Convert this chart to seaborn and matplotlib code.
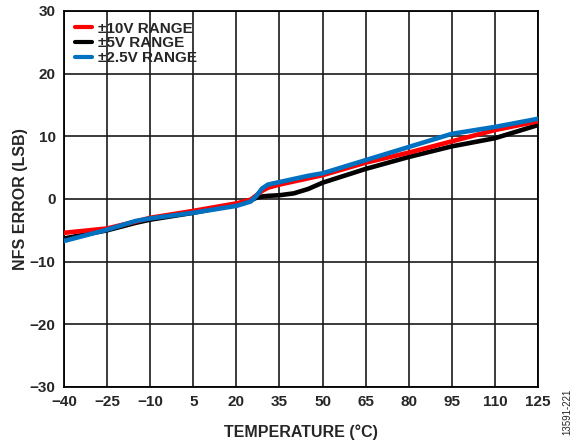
import matplotlib
matplotlib.use("Agg")
import matplotlib.pyplot as plt
import seaborn as sns
import pandas as pd

temps = [-40, -25, -15, -10, 5, 20, 25, 27, 29, 31, 35, 40, 45, 50, 65, 80, 95, 110, 125]
err_10v = [-5.4, -4.7, -3.6, -3.0, -1.9, -0.7, -0.1, 0.6, 1.3, 1.8, 2.3, 2.8, 3.3, 3.8, 5.8, 7.4, 9.2, 11.0, 12.4]
err_5v = [-6.3, -5.0, -3.8, -3.3, -2.2, -0.9, -0.2, 0.2, 0.4, 0.5, 0.6, 0.9, 1.6, 2.6, 4.8, 6.7, 8.4, 9.7, 11.8]
err_2v5 = [-6.7, -4.9, -3.5, -3.1, -2.2, -1.1, -0.4, 0.5, 1.7, 2.3, 2.7, 3.2, 3.7, 4.1, 6.2, 8.3, 10.4, 11.5, 12.8]

series = [("±10V RANGE", err_10v, "#FF0000", 3),
          ("±5V RANGE", err_5v, "#000000", 2),
          ("±2.5V RANGE", err_2v5, "#0070C0", 4)]

xticks = [-40, -25, -10, 5, 20, 35, 50, 65, 80, 95, 110, 125]
yticks = [-30, -20, -10, 0, 10, 20, 30]

sns.set_style("white")
plt.rcParams['font.family'] = ['Liberation Sans', 'DejaVu Sans']
plt.rcParams['font.weight'] = 'bold'

fig = plt.figure(figsize=(5.76, 4.42), dpi=100)
ax = fig.add_axes([64/576, 55/442, 474/576, 376/442])

for name, vals, col, z in series:
    df = pd.DataFrame({"t": temps, "e": vals})
    sns.lineplot(data=df, x="t", y="e", ax=ax, color=col, linewidth=3.3,
                 label=name, zorder=z)
    ax.lines[-1].set_solid_joinstyle("round")

ax.set_xlim(-40, 125)
ax.set_ylim(-30, 30)
ax.set_xticks(xticks)
ax.set_yticks(yticks)
ax.grid(True, color="#1a1a1a", linewidth=1.2, zorder=0)
ax.set_axisbelow(True)
for s in ax.spines.values():
    s.set_color("black")
    s.set_linewidth(1.3)
ax.tick_params(axis="both", labelsize=11, length=0, pad=6)
for lab in ax.get_xticklabels() + ax.get_yticklabels():
    lab.set_fontweight("bold")
ax.set_xlabel("TEMPERATURE (°C)", fontsize=11.5, fontweight="bold", labelpad=11)
ax.set_ylabel("NFS ERROR (LSB)", fontsize=11.5, fontweight="bold", labelpad=1)

leg = ax.legend(loc="upper left", frameon=False, fontsize=11, handlelength=1.1,
                handletextpad=0.4, labelspacing=0.05, borderaxespad=0.3,
                bbox_to_anchor=(0.0, 1.0))
for t in leg.get_texts():
    t.set_fontweight("bold")
for h in leg.get_lines():
    h.set_linewidth(3)

fig.text(0.985, 0.015, "13591-221", rotation=90, fontsize=7, fontweight="normal",
         ha="center", va="bottom")

fig.savefig("out.png", dpi=100)
